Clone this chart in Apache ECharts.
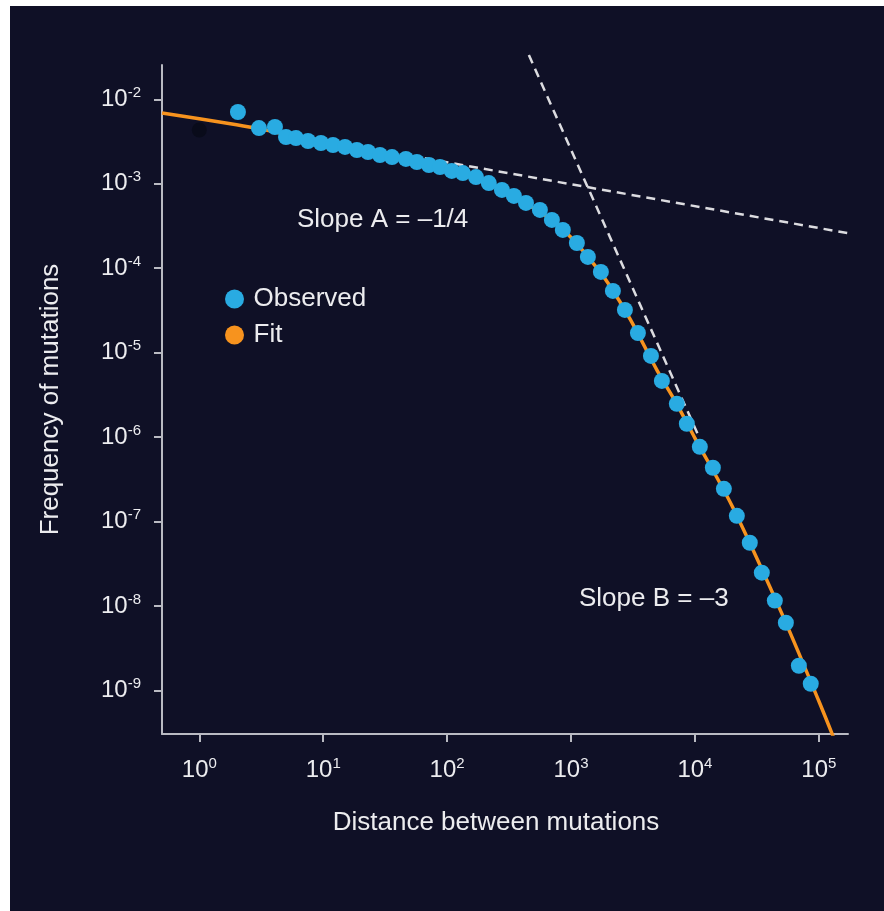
<!DOCTYPE html>
<html>
<head>
<meta charset="utf-8">
<script src="https://cdn.jsdelivr.net/npm/echarts@6/dist/echarts.min.js"></script>
<style>
  html, body { margin: 0; padding: 0; background: #fff; }
  #chart { position: absolute; left: 10px; top: 6px; width: 874px; height: 905px; }
</style>
</head>
<body>
<div id="chart"></div>
<script>
// observed frequencies (distance, frequency)
const observedX = [2.05, 3.03, 4.08, 5.01, 6.03, 7.54, 9.59, 12.0, 15.0, 18.7, 23.0, 28.7, 35.9, 46.5, 57.0, 71.3,
  87.5, 109, 134, 171, 217, 277, 346, 433, 561, 701, 859, 1115, 1368, 1742, 2178, 2723, 3467, 4416, 5412, 7145,
  8607, 10960, 13960, 17130, 21800, 27730, 34670, 44160, 54200, 69020, 86100];
const observedY = [7.08e-3, 4.57e-3, 4.70e-3, 3.58e-3, 3.48e-3, 3.21e-3, 3.04e-3, 2.88e-3, 2.73e-3, 2.51e-3, 2.38e-3,
  2.19e-3, 2.07e-3, 1.97e-3, 1.81e-3, 1.67e-3, 1.58e-3, 1.42e-3, 1.34e-3, 1.20e-3, 1.02e-3, 8.45e-4, 7.18e-4, 5.93e-4,
  4.90e-4, 3.73e-4, 2.84e-4, 1.99e-4, 1.36e-4, 9.04e-5, 5.38e-5, 3.21e-5, 1.71e-5, 9.16e-6, 4.63e-6, 2.48e-6, 1.44e-6,
  7.67e-7, 4.34e-7, 2.44e-7, 1.17e-7, 5.61e-8, 2.48e-8, 1.16e-8, 6.34e-9, 1.96e-9, 1.20e-9];

// the faint dark point at distance 1
const hiddenX = [1];
const hiddenY = [4.34e-3];

// fitted curve
const fitX = [0.5, 1, 2, 3, 5, 10, 20, 50, 100, 200, 300, 400, 700, 1000, 1500, 2000, 3000, 5000, 7000, 10000,
  20000, 50000, 100000, 140000];
const fitY = [6.9e-3, 5.9e-3, 5.0e-3, 4.5e-3, 3.85e-3, 3.02e-3, 2.47e-3, 1.91e-3, 1.48e-3, 1.08e-3, 8.0e-4, 6.3e-4,
  3.73e-4, 2.31e-4, 1.16e-4, 6.6e-5, 2.5e-5, 6.0e-6, 2.6e-6, 9.75e-7, 1.52e-7, 8.3e-9, 7.5e-10, 2.2e-10];

// dashed asymptotes
const slopeAX = [66, 172000];
const slopeAY = [2.0e-3, 2.6e-4];
const slopeBX = [457, 10960];
const slopeBY = [0.0334, 9.55e-7];

const xTicks = [1, 10, 100, 1000, 10000, 100000];
const yTicks = [1e-9, 1e-8, 1e-7, 1e-6, 1e-5, 1e-4, 1e-3, 1e-2];

const FONT = 'Liberation Sans, Arial, sans-serif';
const TEXT = '#ececef';
const AXIS = '#b9bac2';

const zip = (xs, ys) => xs.map((x, i) => [x, ys[i]]);

const powLabel = v => {
  const e = Math.round(Math.log10(v));
  return '{b|10}{s|' + (e < 0 ? '-' + (-e) : e) + '}';
};
const powRich = {
  b: { fontSize: 24, lineHeight: 28, color: TEXT, fontFamily: FONT },
  s: { fontSize: 15, lineHeight: 20, color: TEXT, fontFamily: FONT, verticalAlign: 'top' }
};

const chart = echarts.init(document.getElementById('chart'));
chart.setOption({
  backgroundColor: '#0f1026',
  animation: false,
  grid: { left: 152, top: 59, right: 36, bottom: 177 },
  legend: {
    data: ['Observed', 'Fit'],
    orient: 'vertical',
    left: 215,
    top: 280,
    icon: 'circle',
    itemWidth: 28,
    itemHeight: 19,
    itemGap: 10,
    padding: 0,
    textStyle: { color: TEXT, fontSize: 26, fontFamily: FONT }
  },
  xAxis: {
    type: 'log',
    logBase: 10,
    min: 0.5,
    max: 172000,
    name: 'Distance between mutations',
    nameLocation: 'middle',
    nameGap: 76,
    nameTextStyle: { color: TEXT, fontSize: 26, fontFamily: FONT, padding: [0, 18, 0, 0] },
    axisLine: { lineStyle: { color: AXIS, width: 2 } },
    axisTick: { length: 8, lineStyle: { color: AXIS, width: 2 }, customValues: xTicks },
    axisLabel: { margin: 22, formatter: powLabel, rich: powRich, customValues: xTicks },
    splitLine: { show: false }
  },
  yAxis: {
    type: 'log',
    logBase: 10,
    min: 3.05e-10,
    max: 0.0255,
    name: 'Frequency of mutations',
    nameLocation: 'middle',
    nameRotate: 90,
    nameGap: 98,
    nameTextStyle: { color: TEXT, fontSize: 26, fontFamily: FONT },
    axisLine: { show: true, lineStyle: { color: AXIS, width: 2 } },
    axisTick: { show: true, length: 8, lineStyle: { color: AXIS, width: 2 }, customValues: yTicks },
    axisLabel: { margin: 21, formatter: powLabel, rich: powRich, customValues: yTicks },
    splitLine: { show: false }
  },
  graphic: [
    { type: 'text', left: 287, top: 201, style: { text: 'Slope A = \u20131/4', fill: TEXT, font: '26px ' + FONT } },
    { type: 'text', left: 569, top: 580, style: { text: 'Slope B = \u20133', fill: TEXT, font: '26px ' + FONT } }
  ],
  series: [
    {
      name: 'Slope A',
      type: 'line',
      data: zip(slopeAX, slopeAY),
      showSymbol: false,
      clip: false,
      lineStyle: { color: '#dcdce0', width: 2.5, type: [9, 6] },
      z: 1
    },
    {
      name: 'Slope B',
      type: 'line',
      data: zip(slopeBX, slopeBY),
      showSymbol: false,
      clip: false,
      lineStyle: { color: '#dcdce0', width: 2.5, type: [9, 6] },
      z: 1
    },
    {
      name: 'Fit',
      type: 'line',
      color: '#f7931e',
      data: zip(fitX, fitY),
      smooth: 0.3,
      showSymbol: false,
      lineStyle: { color: '#f7931e', width: 3.5 },
      z: 2
    },
    {
      name: 'hidden',
      type: 'scatter',
      data: zip(hiddenX, hiddenY),
      symbolSize: 15,
      itemStyle: { color: '#070a18' },
      z: 3
    },
    {
      name: 'Observed',
      type: 'scatter',
      color: '#29abe2',
      data: zip(observedX, observedY),
      symbolSize: 16,
      itemStyle: { color: '#29abe2', opacity: 1 },
      z: 3
    }
  ]
});
</script>
</body>
</html>
